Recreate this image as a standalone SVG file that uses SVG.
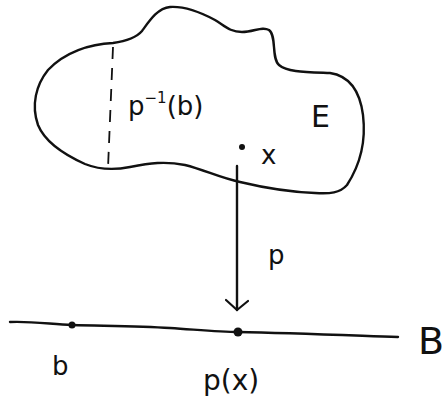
<svg xmlns="http://www.w3.org/2000/svg" width="448" height="403" viewBox="0 0 448 403">
<style>
.ink{fill:none;stroke:#111;stroke-width:2.4;stroke-linecap:round;stroke-linejoin:round}
.lbl{font-family:"DejaVu Sans","Liberation Sans",sans-serif;fill:#111}
</style>
<defs>
<marker id="v" viewBox="0 0 30 24" refX="26" refY="12" markerWidth="30" markerHeight="24" markerUnits="userSpaceOnUse" orient="auto">
<path d="M17,1 L26,12 L16,23" fill="none" stroke="#111" stroke-width="2.2" stroke-linecap="round" stroke-linejoin="round"/>
</marker>
</defs>
<rect width="448" height="403" fill="#fff"/>
<g id="E">
<path class="ink" d="M113,43 C127,41 136,38 142,31 C150,20 158,8 170,7 C185,6 200,12 215,20 C225,26 230,32 242,32 C254,32 262,26 269,30 C277,36 271,58 279,65 C287,72 305,72 330,73 C350,76 360,92 363,115 C366,140 360,165 347,185 C340,193 330,194 315,193 C290,192 265,188 240,182 C220,178 205,170 185,165 C165,161 150,163 130,167 C115,170 100,170 85,164 C65,155 45,142 38,125 C31,105 36,85 48,70 C65,52 90,44 113,43 Z"/>
<line x1="113" y1="47" x2="108" y2="168" stroke="#111" stroke-width="1.8" stroke-dasharray="12,9"/>
<text class="lbl" x="128" y="115" font-size="26">p<tspan dy="-12" font-size="15">−1</tspan><tspan dy="12">(b)</tspan></text>
<text class="lbl" x="311" y="127" font-size="30">E</text>
<circle cx="242" cy="147" r="3" fill="#111"/>
<text class="lbl" x="261" y="164" font-size="26">x</text>
</g>
<g id="B">
<path class="ink" d="M10,322 C30,321 50,324 72,325 C110,326 140,326 170,328 C200,330 220,332 238,332 C290,333 340,335 398,337"/>
<circle cx="72" cy="325" r="3.5" fill="#111"/>
<circle cx="238" cy="332" r="4.5" fill="#111"/>
<text class="lbl" x="418" y="354" font-size="38">B</text>
<text class="lbl" x="52" y="375" font-size="26">b</text>
<text class="lbl" x="203" y="390" font-size="28">p(x)</text>
</g>
<g id="connectors">
<path class="ink" d="M237,166 L237,310" marker-end="url(#v)"/>
<text class="lbl" x="268" y="264" font-size="26">p</text>
</g>
</svg>
